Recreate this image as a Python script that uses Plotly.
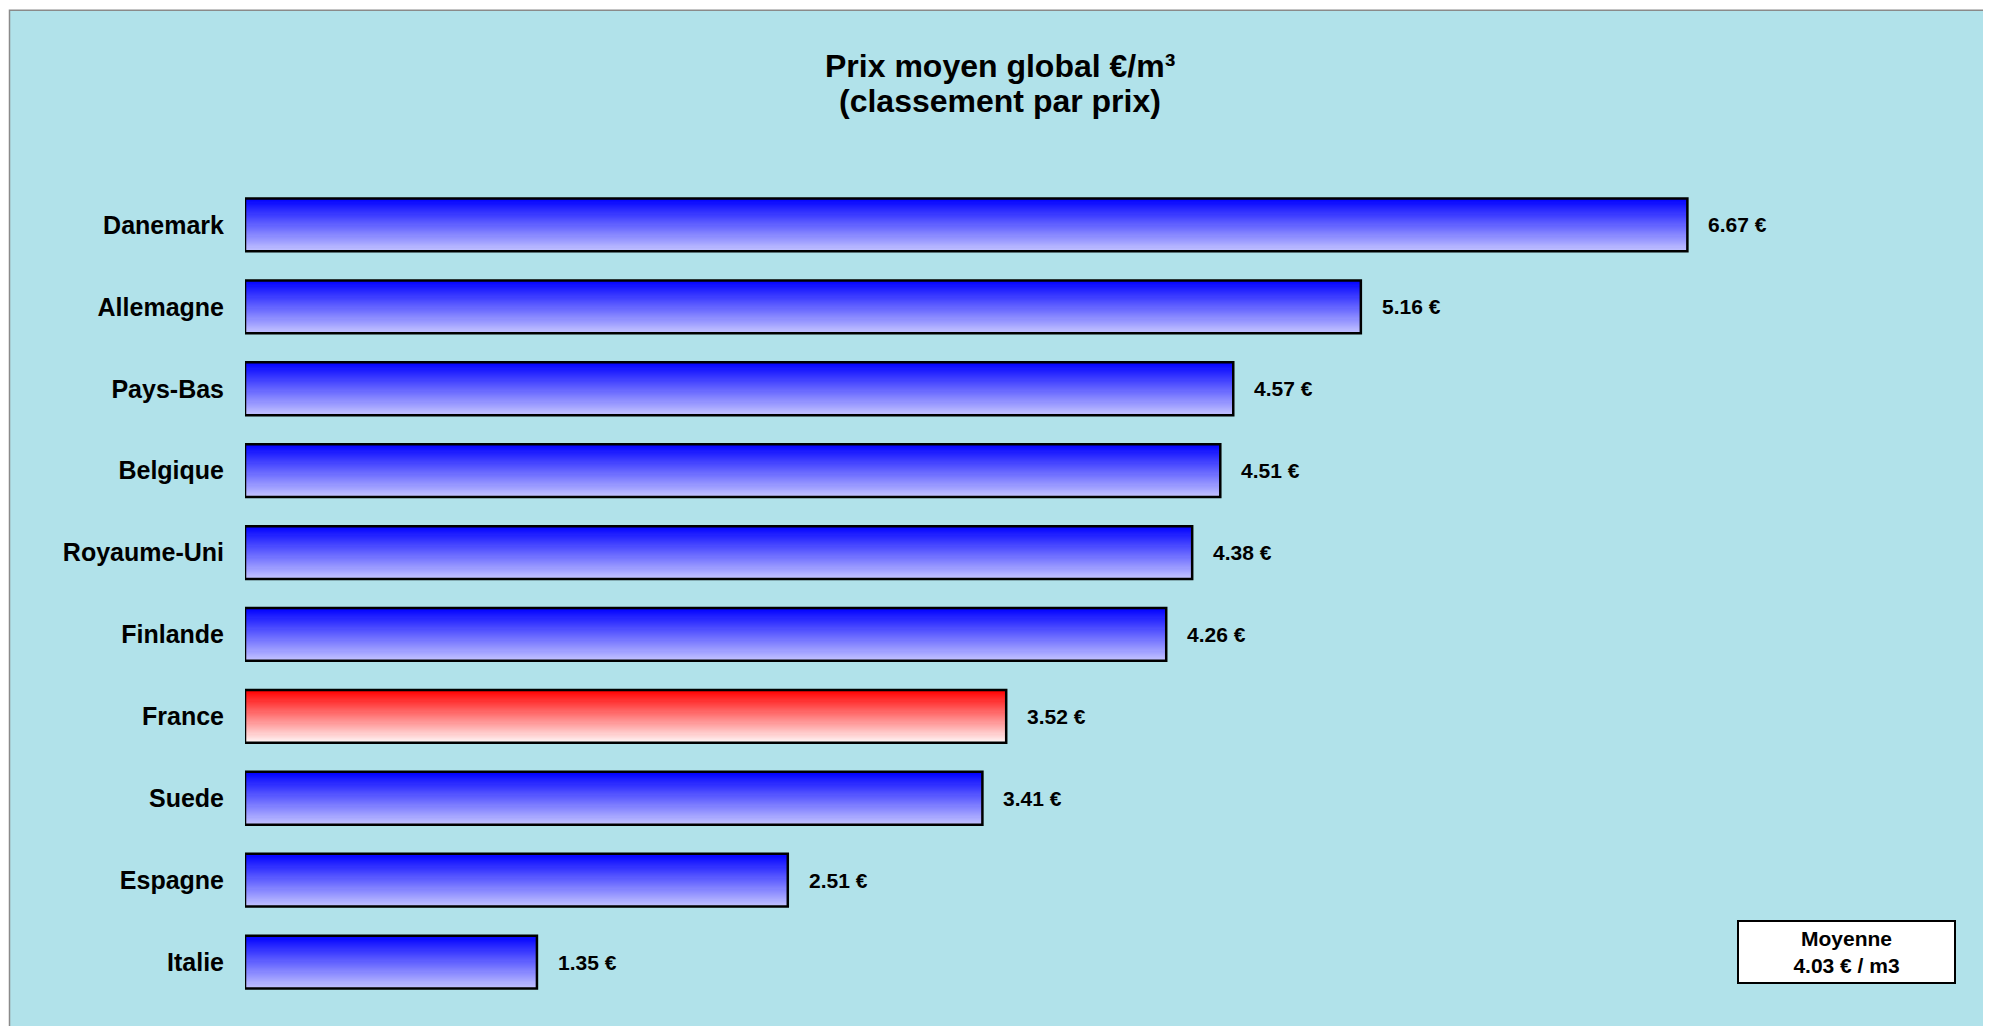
import plotly.graph_objects as go
import numpy as np

# ---- data ----
countries = ["Danemark", "Allemagne", "Pays-Bas", "Belgique", "Royaume-Uni",
             "Finlande", "France", "Suede", "Espagne", "Italie"]
prices = [6.67, 5.16, 4.57, 4.51, 4.38, 4.26, 3.52, 3.41, 2.51, 1.35]
highlight = "France"
title_lines = ["Prix moyen global €/m³", "(classement par prix)"]
mean_label = "Moyenne"

# ---- layout geometry (pixels, figure coordinates) ----
W, H = 1983, 1018
L, R, T, B = 237, 16, 175.5, 22.5
PW, PH = W - L - R, H - T - B

def px_x(px):
    return (px - L) / PW

def px_y(py):
    return 1 - (py - T) / PH

FONT = "Liberation Sans, Arial, sans-serif"
BG = "#b1e2ea"

def lerp(c0, c1, t):
    return "rgb(%d,%d,%d)" % tuple(round(a + (b - a) * t) for a, b in zip(c0, c1))

blue_top, blue_bot = (0, 0, 255), (192, 192, 255)
red_top, red_bot = (255, 0, 0), (255, 242, 242)

fig = go.Figure()

bw = 0.645
N = 48
for i in range(N):
    t = i / (N - 1)
    cols = [lerp(red_top, red_bot, t) if c == highlight else lerp(blue_top, blue_bot, t)
            for c in countries]
    sw = bw / N
    wdt = sw * 1.6 if i < N - 1 else sw
    fig.add_trace(go.Bar(
        orientation="h", x=prices, y=countries,
        width=wdt, offset=-bw / 2 + i * sw,
        marker=dict(color=cols, line=dict(width=0)),
        hoverinfo="skip", showlegend=False,
    ))

# outline
fig.add_trace(go.Bar(
    orientation="h", x=prices, y=countries,
    width=bw, offset=-bw / 2,
    marker=dict(color="rgba(0,0,0,0)", line=dict(color="black", width=2.5)),
    showlegend=False,
    hovertemplate="%{y}: %{x:.2f} €<extra></extra>",
))

annotations = []
for c, v in zip(countries, prices):
    annotations.append(dict(
        x=v, y=c, xref="x", yref="y", text=f"{v:.2f} €",
        showarrow=False, xanchor="left", yanchor="middle", xshift=19,
        font=dict(family=FONT, size=21, color="black", weight="bold"),
    ))

# title
for line, py in zip(title_lines, [57, 92]):
    annotations.append(dict(
        x=px_x(992), y=px_y(py), xref="paper", yref="paper", text=line,
        showarrow=False, xanchor="center", yanchor="middle",
        font=dict(family=FONT, size=32, color="black", weight="bold"),
    ))

# mean box
mean_val = float(np.mean(prices))
annotations.append(dict(
    x=px_x(1838.5), y=px_y(944), xref="paper", yref="paper",
    text=f"{mean_label}<br>{mean_val:.2f} € / m3",
    showarrow=False, xanchor="center", yanchor="middle",
    width=213, height=58, align="center", valign="middle",
    bgcolor="white", bordercolor="black", borderwidth=2, borderpad=1,
    font=dict(family=FONT, size=21, color="black", weight="bold"),
))

shapes = [dict(
    type="rect", xref="paper", yref="paper", layer="below",
    x0=px_x(1.5), x1=px_x(W + 5), y0=px_y(H + 5), y1=px_y(1.5),
    fillcolor=BG, line=dict(color="#8a8a8a", width=1.5),
)]

fig.update_layout(
    width=W, height=H,
    margin=dict(l=L, r=R, t=T, b=B, pad=0),
    paper_bgcolor="white", plot_bgcolor="rgba(0,0,0,0)",
    barmode="overlay",
    showlegend=False,
    annotations=annotations,
    shapes=shapes,
    xaxis=dict(range=[0, 8], showgrid=False, zeroline=False, showline=False,
               showticklabels=False, ticks="", fixedrange=True),
    yaxis=dict(type="category", categoryorder="array", categoryarray=countries,
               range=[9.5, -0.5], showgrid=False, zeroline=False, showline=False,
               ticks="", ticklabelstandoff=20,
               tickfont=dict(family=FONT, size=25, color="black", weight="bold"),
               fixedrange=True),
    font=dict(family=FONT),
)

fig.write_html("out.html")
